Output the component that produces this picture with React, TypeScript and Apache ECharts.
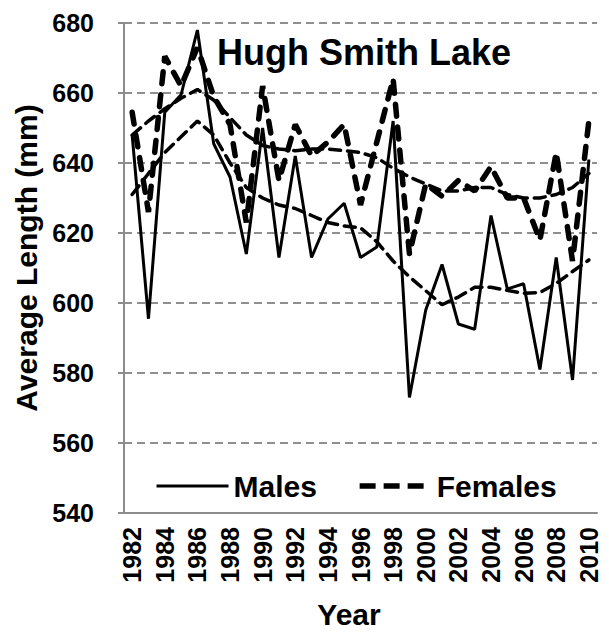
import React, { useEffect, useRef } from "react";
import * as echarts from "echarts";

const years = [
  "1982","1983","1984","1985","1986","1987","1988","1989","1990","1991",
  "1992","1993","1994","1995","1996","1997","1998","1999","2000","2001",
  "2002","2003","2004","2005","2006","2007","2008","2009","2010",
];
const males = [648, 595.5, 654.5, 659.5, 678, 645.5, 636, 614, 650, 613, 642, 613, 624, 628.5, 613, 616, 652, 573, 598, 611, 594, 592.5, 625, 604, 605.5, 581, 613, 578, 641];
const females = [654.5, 626, 670.5, 662, 673, 659, 651, 623, 662, 635, 651, 642, 646, 651, 628, 646, 664, 614, 634, 630.5, 635, 632, 639, 630, 630, 618, 643, 612, 652];
const malesTrend = [631, 637, 643, 647.5, 652, 648, 640, 633, 630, 628, 627, 625, 623, 622, 621.5, 617.5, 612, 607.5, 603.5, 599.5, 601.7, 604.5, 604.5, 603.6, 602.8, 603, 605.6, 609, 612.3];
const femalesTrend = [648, 652, 655.5, 658.5, 661, 658, 653, 648, 645, 644, 643.5, 644, 644, 643.5, 643, 641.5, 638.5, 636, 634, 632, 632, 633, 633, 631, 630, 630, 631, 633, 637];

const FONT = "Arial, 'Liberation Sans', Helvetica, sans-serif";
const femDash = [12, 11];
const trendDash = [11, 7];

export default function App() {
  const ref = useRef<HTMLDivElement>(null);
  useEffect(() => {
    if (!ref.current) return;
    const chart = echarts.init(ref.current, null, { renderer: "svg" });
    chart.setOption({
      animation: false,
      backgroundColor: "#ffffff",
      color: ["#000000"],
      grid: { left: 124, right: 12, top: 23, bottom: 126, containLabel: false },
      xAxis: {
        type: "category",
        data: years,
        boundaryGap: true,
        axisLine: { lineStyle: { color: "#8c8c8c", width: 2 } },
        axisTick: { interval: 0, length: 6, lineStyle: { color: "#8c8c8c", width: 2 } },
        axisLabel: {
          interval: 1,
          rotate: 90,
          margin: 14,
          color: "#000",
          fontSize: 25,
          fontWeight: "bold",
          fontFamily: FONT,
        },
        splitLine: { show: false },
      },
      yAxis: {
        type: "value",
        min: 540,
        max: 680,
        interval: 20,
        axisLine: { show: true, lineStyle: { color: "#8c8c8c", width: 2 } },
        axisTick: { show: true, length: 6, lineStyle: { color: "#8c8c8c", width: 2 } },
        axisLabel: {
          margin: 30,
          color: "#000",
          fontSize: 25,
          fontWeight: "bold",
          fontFamily: FONT,
        },
        splitLine: { show: true, lineStyle: { color: "#8f8f8f", width: 2, type: [8, 5] } },
      },
      legend: {
        left: 150,
        top: 466,
        itemWidth: 72,
        itemHeight: 6,
        itemGap: 40,
        textStyle: { color: "#000", fontSize: 30, fontWeight: "bold", fontFamily: FONT },
        data: [
          {
            name: "Males",
            itemStyle: { color: "#000", opacity: 0 },
            lineStyle: { color: "#000", width: 3, type: "solid" },
          },
          {
            name: "Females",
            itemStyle: { color: "#000", opacity: 0 },
            lineStyle: { color: "#000", width: 5.5, type: [16, 8], cap: "butt" },
          },
        ],
      },
      graphic: [
        {
          type: "text",
          left: 217,
          top: 34,
          style: { text: "Hugh Smith Lake", fill: "#000", font: `bold 36px ${FONT}` },
        },
        {
          type: "text",
          x: 349,
          y: 614,
          style: { text: "Year", fill: "#000", font: `bold 30px ${FONT}`, align: "center", verticalAlign: "middle" },
        },
        {
          type: "text",
          x: 26,
          y: 258,
          rotation: Math.PI / 2,
          style: { text: "Average Length (mm)", fill: "#000", font: `bold 30px ${FONT}`, align: "center", verticalAlign: "middle" },
        },
      ],
      series: [
        {
          name: "Males trend",
          type: "line",
          data: malesTrend,
          symbol: "none",
          itemStyle: { color: "#000" },
          lineStyle: { color: "#000", width: 3.5, type: trendDash, cap: "round" },
        },
        {
          name: "Females trend",
          type: "line",
          data: femalesTrend,
          symbol: "none",
          itemStyle: { color: "#000" },
          lineStyle: { color: "#000", width: 3.5, type: trendDash, cap: "round" },
        },
        {
          name: "Females",
          type: "line",
          data: females,
          symbol: "none",
          itemStyle: { color: "#000" },
          lineStyle: { color: "#000", width: 5.5, type: femDash, cap: "round" },
        },
        {
          name: "Males",
          type: "line",
          data: males,
          symbol: "none",
          itemStyle: { color: "#000" },
          lineStyle: { color: "#000", width: 3, type: "solid" },
        },
      ],
    });
    return () => chart.dispose();
  }, []);
  return (
    <div
      ref={ref}
      style={{ position: "fixed", left: 0, top: 0, width: 609, height: 639 }}
    />
  );
}
